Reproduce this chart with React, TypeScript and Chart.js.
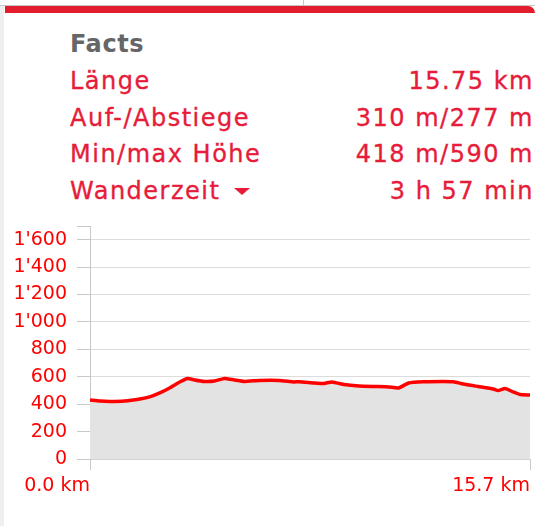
import React, { useEffect, useRef } from 'react';
import { Chart, registerables } from 'chart.js';

Chart.register(...registerables);

// Elevation profile (distance in km, elevation in m)
const distKm = [
  0.0, 0.36, 0.71, 1.24, 1.78, 2.13, 2.49, 2.84, 3.2, 3.48, 3.73, 4.08, 4.44,
  4.8, 5.15, 5.51, 6.04, 6.75, 7.28, 7.46, 7.99, 8.35, 8.63, 9.06, 9.59, 10.12,
  10.66, 11.01, 11.37, 11.9, 12.61, 12.97, 13.32, 13.85, 14.39, 14.56, 14.81,
  15.1, 15.34, 15.7,
];
const elevation = [
  431, 423, 420, 423, 438, 453, 482, 518, 562, 588, 577, 566, 569, 588, 577,
  566, 573, 573, 562, 564, 555, 551, 562, 544, 533, 529, 526, 518, 555, 564,
  566, 564, 547, 529, 511, 499, 515, 489, 471, 467,
];

const yTickValues = [0, 200, 400, 600, 800, 1000, 1200, 1400, 1600];
const yAxisMax = 1700;
const xTickValues = [0, 15.7];

const factLabels = ['Länge', 'Auf-/Abstiege', 'Min/max Höhe', 'Wanderzeit'];
const factValues = ['15.75 km', '310 m/277 m', '418 m/590 m', '3 h 57 min'];

const RED_TEXT = '#e61c3a';
const FONT = "'DejaVu Sans', Verdana, sans-serif";

function formatThousands(v: number): string {
  const s = String(Math.round(v));
  return s.replace(/\B(?=(\d{3})+(?!\d))/g, "'");
}

export default function App() {
  const canvasRef = useRef<HTMLCanvasElement | null>(null);

  useEffect(() => {
    const canvas = canvasRef.current;
    if (!canvas) return;
    const tickFont = { family: 'DejaVu Sans', size: 19 };
    const chart = new Chart(canvas, {
      type: 'line',
      data: {
        datasets: [
          {
            data: distKm.map((x, i) => ({ x, y: elevation[i] })),
            borderColor: '#ff0000',
            borderWidth: 3.5,
            backgroundColor: '#e3e3e3',
            fill: 'origin',
            pointRadius: 0,
            tension: 0.15,
          },
        ],
      },
      options: {
        animation: false,
        responsive: false,
        maintainAspectRatio: false,
        layout: { padding: { top: 26, right: 2, left: 0, bottom: 0 } },
        plugins: {
          legend: { display: false },
          tooltip: { enabled: false },
        },
        scales: {
          x: {
            type: 'linear',
            min: 0,
            max: 15.7,
            afterBuildTicks: (s: any) => {
              s.ticks = xTickValues.map((v) => ({ value: v }));
            },
            afterFit: (s: any) => {
              s.height = 67;
            },
            grid: {
              drawOnChartArea: false,
              drawTicks: true,
              tickLength: 11,
              tickColor: '#c8c8c8',
            },
            border: { display: true, color: '#d4d4d4' },
            ticks: {
              align: 'end',
              padding: 5,
              color: '#ff0000',
              font: tickFont,
              maxRotation: 0,
              autoSkip: false,
              callback: (v: any) => Number(v).toFixed(1) + ' km',
            },
          },
          y: {
            min: 0,
            max: yAxisMax,
            afterBuildTicks: (s: any) => {
              s.ticks = [...yTickValues, yAxisMax].map((v) => ({ value: v }));
            },
            afterFit: (s: any) => {
              s.width = 90;
            },
            grid: {
              color: (ctx: any) =>
                ctx.tick && ctx.tick.value === yAxisMax ? 'rgba(0,0,0,0)' : '#dcdcdc',
              tickColor: '#c8c8c8',
              tickLength: 13,
            },
            border: { display: true, color: '#c8c8c8' },
            ticks: {
              padding: 10,
              color: '#ff0000',
              font: tickFont,
              autoSkip: false,
              callback: (v: any) => (Number(v) === yAxisMax ? '' : formatThousands(Number(v))),
            },
          },
        },
      },
    } as any);
    return () => chart.destroy();
  }, []);

  const rowStyle: React.CSSProperties = {
    display: 'flex',
    justifyContent: 'space-between',
    height: 36.6,
    lineHeight: '36.6px',
    color: RED_TEXT,
    fontFamily: FONT,
    fontSize: 24,
    letterSpacing: '1.5px',
    whiteSpace: 'nowrap',
    WebkitTextStroke: '0.35px',
  };

  return (
    <div
      style={{
        position: 'fixed',
        left: 0,
        top: 0,
        width: 535,
        height: 526,
        background: '#ffffff',
        overflow: 'hidden',
      }}
    >
      {/* top decoration */}
      <div style={{ position: 'absolute', left: 0, top: 5, width: 535, height: 1, background: '#c6c6c6' }} />
      <div style={{ position: 'absolute', left: 303, top: 0, width: 1, height: 5, background: '#c6c6c6' }} />
      <div style={{ position: 'absolute', left: 0, top: 6, width: 4, height: 520, background: '#efefef' }} />
      <div
        style={{
          position: 'absolute',
          left: 5,
          top: 6,
          width: 530,
          height: 7,
          background: '#e11d2e',
          borderTopRightRadius: 8,
        }}
      />

      {/* facts block */}
      <div style={{ position: 'absolute', left: 70, top: 26.4, width: 464 }}>
        <div
          style={{
            ...rowStyle,
            color: '#666666',
            fontWeight: 'bold',
            letterSpacing: '0.6px',
            WebkitTextStroke: '0px',
          }}
        >
          Facts
        </div>
        {factLabels.map((label, i) => (
          <div key={label} style={rowStyle}>
            <span>
              {label}
              {i === factLabels.length - 1 ? (
                <span
                  style={{
                    display: 'inline-block',
                    width: 0,
                    height: 0,
                    marginLeft: 14,
                    borderLeft: '8px solid transparent',
                    borderRight: '8px solid transparent',
                    borderTop: `7px solid ${RED_TEXT}`,
                    verticalAlign: 'middle',
                  }}
                />
              ) : null}
            </span>
            <span>{factValues[i]}</span>
          </div>
        ))}
      </div>

      <canvas
        ref={canvasRef}
        width={535}
        height={326}
        style={{ position: 'absolute', left: 0, top: 200, width: 535, height: 326 }}
      />
    </div>
  );
}
